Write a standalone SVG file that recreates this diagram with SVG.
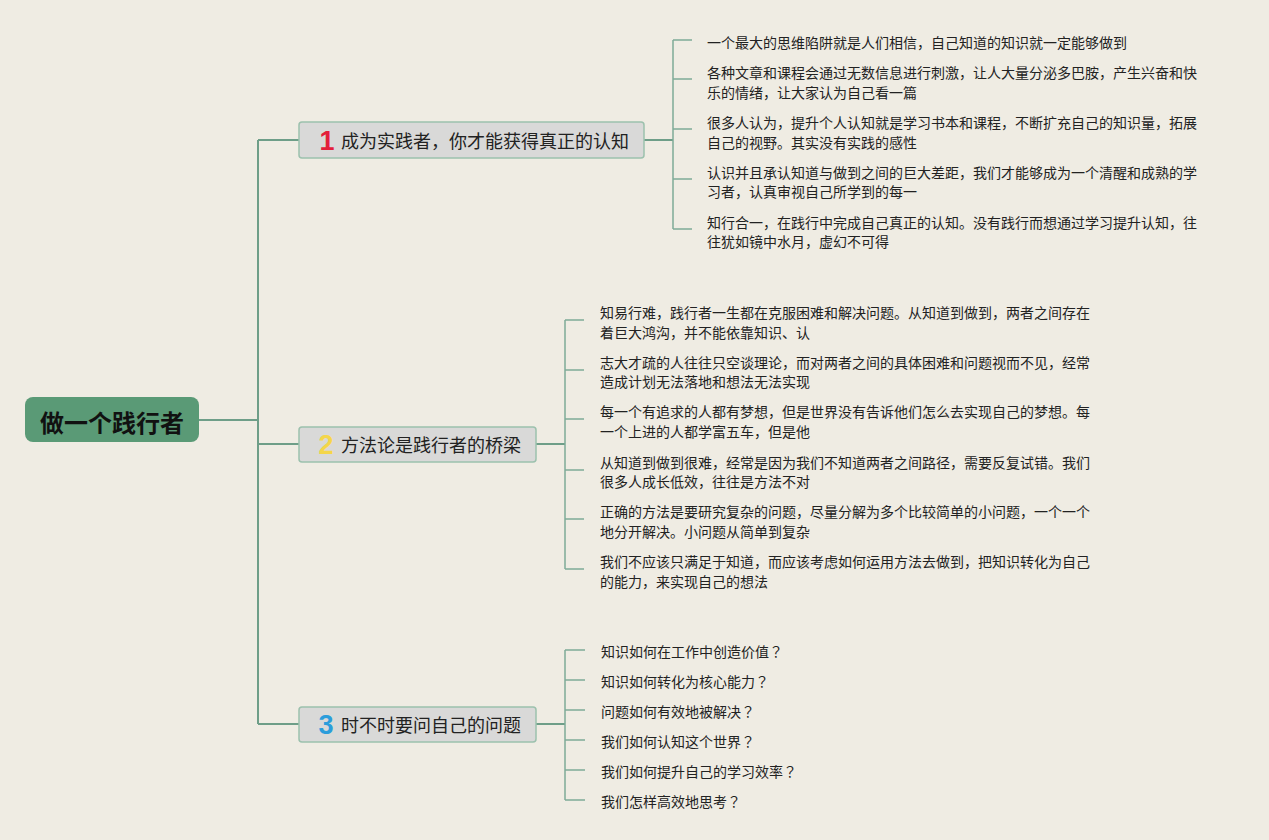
<svg xmlns="http://www.w3.org/2000/svg" width="1269" height="840" viewBox="0 0 1269 840">
<style>
.bg{fill:#efece3}
.ln{fill:none;stroke:#7fab98;stroke-width:1.5}
.ln2{fill:none;stroke:#6e9e88;stroke-width:2}
.root{fill:#5a9a76}
.rt{font-family:"Noto Sans CJK SC",sans-serif;font-size:24px;font-weight:bold;fill:#111}
.br{fill:#d9d9d8;stroke:#9cc1ad;stroke-width:1.5}
.bt{font-family:"Noto Sans CJK SC",sans-serif;font-size:18px;fill:#222}
.num{font-family:"Liberation Sans",Arial,sans-serif;font-weight:bold;font-size:27px}
.lt{font-family:"Noto Sans CJK SC",sans-serif;font-size:14px;fill:#222}
.q{font-family:"Noto Sans CJK TC",sans-serif}
</style>
<rect class="bg" x="0" y="0" width="1269" height="840"/>
<g id="connectors">
<path class="ln2" d="M198 420 H258 M258 140 V724 M258 140 H299 M258 444 H299 M258 724 H299"/>
<path class="ln2" d="M644 140 H673 M536 444 H565 M536 724 H565"/>
<path class="ln" d="M673 40 V229 M673 40 H692 M673 79 H692 M673 129 H692 M673 179 H692 M673 229 H692"/>
<path class="ln" d="M565 320 V569 M565 320 H584 M565 370 H584 M565 419 H584 M565 470 H584 M565 519 H584 M565 569 H584"/>
<path class="ln" d="M565 650 V800 M565 650 H585 M565 680 H585 M565 710 H585 M565 740 H585 M565 770 H585 M565 800 H585"/>
</g>
<g id="root">
<rect class="root" x="25" y="397" width="174" height="45" rx="8"/>
<text class="rt" x="112" y="421" text-anchor="middle" dominant-baseline="central">做一个践行者</text>
</g>
<g id="b1">
<rect class="br" x="299" y="122" width="345" height="36" rx="3"/>
<text class="num" x="327" y="150" text-anchor="middle" fill="#e3203a">1</text>
<text class="bt" x="341" y="140" dominant-baseline="central">成为实践者，你才能获得真正的认知</text>
</g>
<g id="b2">
<rect class="br" x="299" y="427" width="237" height="35" rx="3"/>
<text class="num" x="326" y="454" text-anchor="middle" fill="#f4d64a">2</text>
<text class="bt" x="341" y="444" dominant-baseline="central">方法论是践行者的桥梁</text>
</g>
<g id="b3">
<rect class="br" x="299" y="707" width="237" height="35" rx="3"/>
<text class="num" x="326" y="734" text-anchor="middle" fill="#2b9ddb">3</text>
<text class="bt" x="341" y="724" dominant-baseline="central">时不时要问自己的问题</text>
</g>
<g id="l1-1"><text class="lt" x="707" y="42" dominant-baseline="central">一个最大的思维陷阱就是人们相信，自己知道的知识就一定能够做到</text></g>
<g id="l1-2"><text class="lt" dominant-baseline="central"><tspan x="707" y="72">各种文章和课程会通过无数信息进行刺激，让人大量分泌多巴胺，产生兴奋和快</tspan><tspan x="707" y="92">乐的情绪，让大家认为自己看一篇</tspan></text></g>
<g id="l1-3"><text class="lt" dominant-baseline="central"><tspan x="707" y="122">很多人认为，提升个人认知就是学习书本和课程，不断扩充自己的知识量，拓展</tspan><tspan x="707" y="142">自己的视野。其实没有实践的感性</tspan></text></g>
<g id="l1-4"><text class="lt" dominant-baseline="central"><tspan x="707" y="172">认识并且承认知道与做到之间的巨大差距，我们才能够成为一个清醒和成熟的学</tspan><tspan x="707" y="191">习者，认真审视自己所学到的每一</tspan></text></g>
<g id="l1-5"><text class="lt" dominant-baseline="central"><tspan x="707" y="222">知行合一，在践行中完成自己真正的认知。没有践行而想通过学习提升认知，往</tspan><tspan x="707" y="241">往犹如镜中水月，虚幻不可得</tspan></text></g>
<g id="l2-1"><text class="lt" dominant-baseline="central"><tspan x="600" y="312">知易行难，践行者一生都在克服困难和解决问题。从知道到做到，两者之间存在</tspan><tspan x="600" y="332">着巨大鸿沟，并不能依靠知识、认</tspan></text></g>
<g id="l2-2"><text class="lt" dominant-baseline="central"><tspan x="600" y="362">志大才疏的人往往只空谈理论，而对两者之间的具体困难和问题视而不见，经常</tspan><tspan x="600" y="381">造成计划无法落地和想法无法实现</tspan></text></g>
<g id="l2-3"><text class="lt" dominant-baseline="central"><tspan x="600" y="411">每一个有追求的人都有梦想，但是世界没有告诉他们怎么去实现自己的梦想。每</tspan><tspan x="600" y="431">一个上进的人都学富五车，但是他</tspan></text></g>
<g id="l2-4"><text class="lt" dominant-baseline="central"><tspan x="600" y="462">从知道到做到很难，经常是因为我们不知道两者之间路径，需要反复试错。我们</tspan><tspan x="600" y="481">很多人成长低效，往往是方法不对</tspan></text></g>
<g id="l2-5"><text class="lt" dominant-baseline="central"><tspan x="600" y="511">正确的方法是要研究复杂的问题，尽量分解为多个比较简单的小问题，一个一个</tspan><tspan x="600" y="531">地分开解决。小问题从简单到复杂</tspan></text></g>
<g id="l2-6"><text class="lt" dominant-baseline="central"><tspan x="600" y="561">我们不应该只满足于知道，而应该考虑如何运用方法去做到，把知识转化为自己</tspan><tspan x="600" y="581">的能力，来实现自己的想法</tspan></text></g>
<g id="l3-1"><text class="lt" x="601" y="651" dominant-baseline="central">知识如何在工作中创造价值<tspan class="q">？</tspan></text></g>
<g id="l3-2"><text class="lt" x="601" y="681" dominant-baseline="central">知识如何转化为核心能力<tspan class="q">？</tspan></text></g>
<g id="l3-3"><text class="lt" x="601" y="711" dominant-baseline="central">问题如何有效地被解决<tspan class="q">？</tspan></text></g>
<g id="l3-4"><text class="lt" x="601" y="741" dominant-baseline="central">我们如何认知这个世界<tspan class="q">？</tspan></text></g>
<g id="l3-5"><text class="lt" x="601" y="771" dominant-baseline="central">我们如何提升自己的学习效率<tspan class="q">？</tspan></text></g>
<g id="l3-6"><text class="lt" x="601" y="801" dominant-baseline="central">我们怎样高效地思考<tspan class="q">？</tspan></text></g>
</svg>
